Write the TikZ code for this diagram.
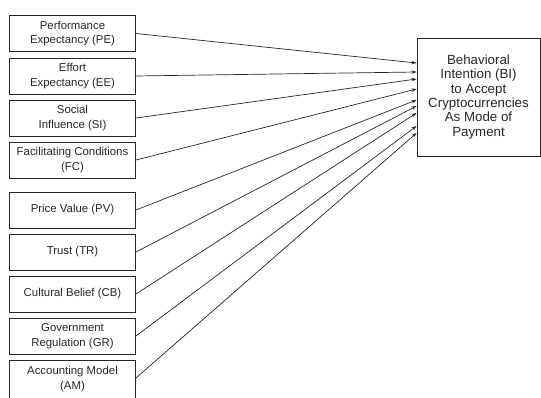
\documentclass[tikz,border=0pt]{standalone}
\usepackage{fontspec}
\setmainfont{Liberation Sans}
\usetikzlibrary{arrows.meta}
\definecolor{ink}{HTML}{262626}
\begin{document}
\begin{tikzpicture}[x=1pt,y=-1pt,
  factor/.style={draw=ink,line width=0.9pt,minimum width=126pt,minimum height=36pt,
    inner sep=1pt,align=center,text=ink,font=\fontsize{11.4}{14.6}\selectfont},
  target/.style={draw=ink,line width=0.9pt,minimum width=123pt,minimum height=118pt,
    inner sep=1pt,align=center,text=ink,font=\fontsize{13.3}{14.3}\selectfont},
  arr/.style={draw=ink,line width=0.7pt,-{Stealth[length=5pt,width=3.5pt]}}]
\useasboundingbox (0,0) rectangle (541,398);
\node[factor] (pe) at (72.5,33.5) {Performance\\Expectancy (PE)};
\node[factor] (ee) at (72.5,76) {Effort\\Expectancy (EE)};
\node[factor] (si) at (72.5,118) {Social\\Influence (SI)};
\node[factor] (fc) at (72.5,160) {Facilitating Conditions\\(FC)};
\node[factor] (pv) at (72.5,210) {Price Value (PV)};
\node[factor] (tr) at (72.5,252) {Trust (TR)};
\node[factor] (cb) at (72.5,294) {Cultural Belief (CB)};
\node[factor] (gr) at (72.5,336) {Government\\Regulation (GR)};
\node[factor,minimum height=44pt,text depth=8pt] (am) at (72.5,382) {Accounting Model\\(AM)};
\node[target] (bi) at (478.5,97) {Behavioral\\Intention (BI)\\to Accept\\Cryptocurrencies\\As Mode of\\Payment};
\draw[arr] (pe.east) -- (bi.west |- 0,63);
\draw[arr] (ee.east) -- (bi.west |- 0,72);
\draw[arr] (si.east) -- (bi.west |- 0,79);
\draw[arr] (fc.east) -- (bi.west |- 0,89);
\draw[arr] (pv.east) -- (bi.west |- 0,100);
\draw[arr] (tr.east) -- (bi.west |- 0,106);
\draw[arr] (cb.east) -- (bi.west |- 0,113);
\draw[arr] (gr.east) -- (bi.west |- 0,126);
\draw[arr] (am.east |- 0,378) -- (bi.west |- 0,133);
\end{tikzpicture}
\end{document}
